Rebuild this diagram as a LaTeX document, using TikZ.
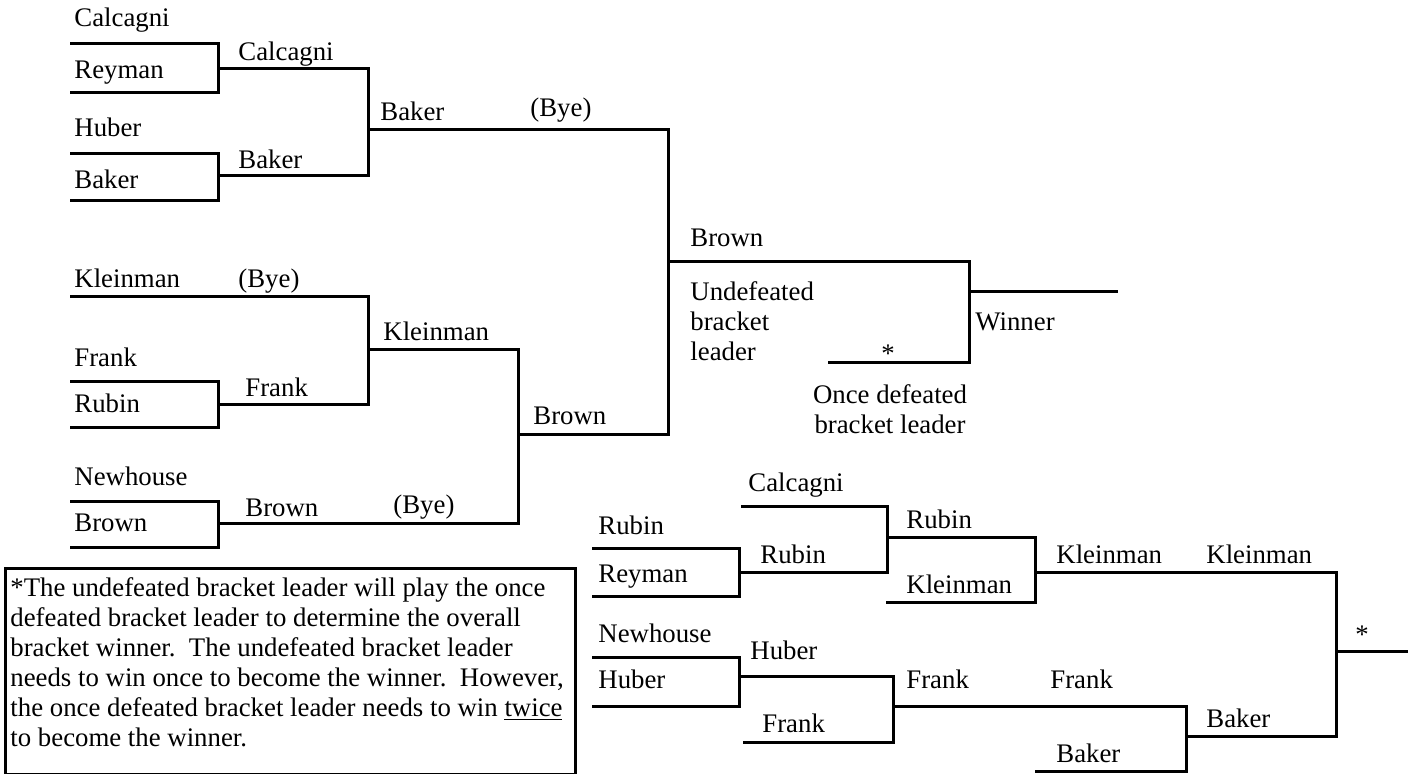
\documentclass[tikz,border=0pt]{standalone}
\usepackage{fontspec}
\setmainfont{Liberation Serif}
\begin{document}
\begin{tikzpicture}[x=0.5pt,y=-0.5pt,
  br/.style={line width=1.5pt, line join=miter},
  lbl/.style={anchor=base west, inner sep=0pt, font=\fontsize{13.4}{15}\selectfont},
  clbl/.style={anchor=base, inner sep=0pt, font=\fontsize{13.4}{15}\selectfont},
]
\useasboundingbox (0,0) rectangle (1408,774);

% ---------- upper (winners) bracket ----------
\draw[br] (70,44) -| (218,93) -- (70,93);
\draw[br] (70,154) -| (218,201) -- (70,201);
\draw[br] (218,69) -| (368,176) -- (218,176);
\draw[br] (368,130) -| (668,435) -- (518,435);
\draw[br] (70,297) -| (368,405) -- (218,405);
\draw[br] (70,382) -| (218,428) -- (70,428);
\draw[br] (368,350) -| (518,524) -- (218,524);
\draw[br] (70,502) -| (218,548) -- (70,548);
\draw[br] (668,262) -| (969,363) -- (828,363);
\draw[br] (969,292) -- (1118,292);

\node[lbl] (a1) at (74,27) {Calcagni};
\node[lbl] (a2) at (74,79) {Reyman};
\node[lbl] (a3) at (74,137) {Huber};
\node[lbl] (a4) at (74,189) {Baker};
\node[lbl] (b1) at (238,61) {Calcagni};
\node[lbl] (b2) at (238,169) {Baker};
\node[lbl] (c1) at (380,121) {Baker};
\node[lbl] (c1b) at (530,117) {(Bye)};
\node[lbl] (a5) at (74,288) {Kleinman};
\node[lbl] (b3) at (238,288) {(Bye)};
\node[lbl] (c2) at (383,341) {Kleinman};
\node[lbl] (a6) at (74,367) {Frank};
\node[lbl] (a7) at (74,413) {Rubin};
\node[lbl] (b4) at (245,397) {Frank};
\node[lbl] (d1) at (533,425) {Brown};
\node[lbl] (a8) at (74,486) {Newhouse};
\node[lbl] (a9) at (74,532) {Brown};
\node[lbl] (b5) at (245,517) {Brown};
\node[lbl] (c3) at (393,514) {(Bye)};
\node[lbl] (e1) at (690,247) {Brown};
\node[lbl, align=left] (e2) at (690,361) {Undefeated\\bracket\\leader};
\node[clbl] (e3) at (888,363) {*};
\node[lbl] (win) at (975,331) {Winner};
\node[clbl, align=center] (e4) at (890,434) {Once defeated\\bracket leader};

% ---------- lower (losers) bracket ----------
\draw[br] (741,507) -| (887,573) -- (739,573);
\draw[br] (592,549) -| (739,597) -- (592,597);
\draw[br] (887,538) -| (1035,603) -- (886,603);
\draw[br] (1035,573) -| (1336,736) -- (1186,736);
\draw[br] (1336,651) -- (1408,651);
\draw[br] (592,657) -| (739,706) -- (592,706);
\draw[br] (739,676) -| (893,742) -- (743,742);
\draw[br] (893,706) -| (1186,771) -- (1035,771);

\node[lbl] (l1) at (748,492) {Calcagni};
\node[lbl] (l2) at (598,535) {Rubin};
\node[lbl] (l3) at (598,582) {Reyman};
\node[lbl] (l4) at (760,564) {Rubin};
\node[lbl] (l5) at (906,529) {Rubin};
\node[lbl] (l6) at (906,594) {Kleinman};
\node[lbl] (l7) at (1056,564) {Kleinman};
\node[lbl] (l8) at (1206,564) {Kleinman};
\node[clbl] (l9) at (1362,644) {*};
\node[lbl] (l10) at (598,642) {Newhouse};
\node[lbl] (l11) at (598,689) {Huber};
\node[lbl] (l12) at (750,660) {Huber};
\node[lbl] (l13) at (762,732) {Frank};
\node[lbl] (l14) at (906,689) {Frank};
\node[lbl] (l15) at (1050,689) {Frank};
\node[lbl] (l16) at (1056,762) {Baker};
\node[lbl] (l17) at (1206,727) {Baker};

% ---------- note box ----------
\node[draw, line width=1.5pt, anchor=north west, inner sep=0pt,
      minimum width=285pt, minimum height=103pt] (notebox) at (4,567) {};
\node[lbl, align=left] (note) at (10,746)
 {*The undefeated bracket leader will play the once\\
  defeated bracket leader to determine the overall\\
  bracket winner.\ \ The undefeated bracket leader\\
  needs to win once to become the winner.\ \ However,\\
  the once defeated bracket leader needs to win \underline{twice}\\
  to become the winner.};
\end{tikzpicture}
\end{document}
